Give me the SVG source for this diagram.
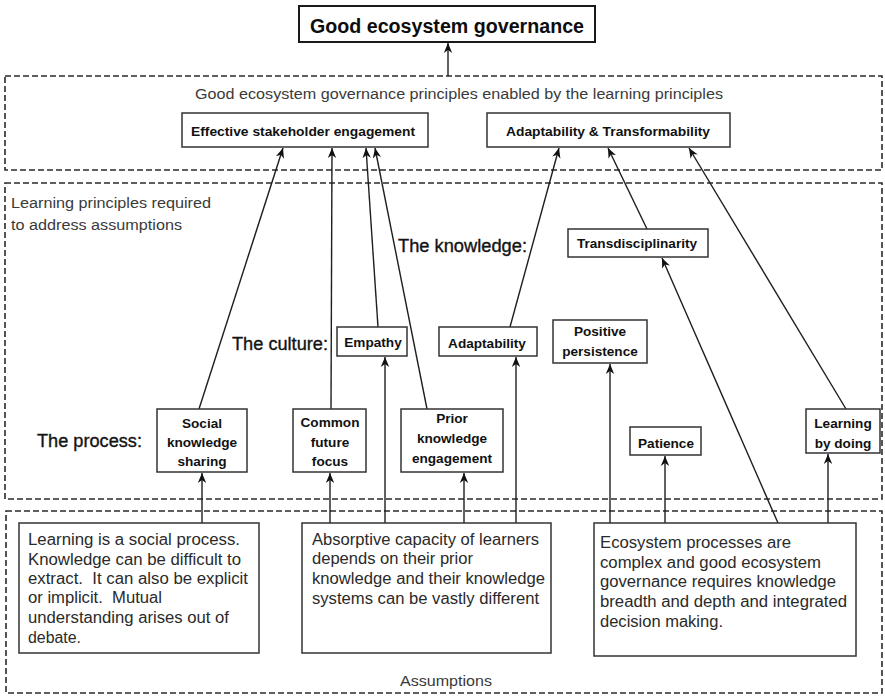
<svg xmlns="http://www.w3.org/2000/svg" width="885" height="696" viewBox="0 0 885 696">
  <style>
    .bg { fill: #ffffff; }
    .zone { fill: none; stroke: #2b2b2b; stroke-width: 1.6; stroke-dasharray: 6 3; }
    .box { fill: #ffffff; stroke: #333333; stroke-width: 1.5; }
    .topbox { fill: #ffffff; stroke: #1a1a1a; stroke-width: 2; }
    .node { font-family: "Liberation Sans", Arial, sans-serif; font-weight: bold; font-size: 13.6px; fill: #111111; text-anchor: middle; }
    .title { font-family: "Liberation Sans", Arial, sans-serif; font-weight: bold; font-size: 19.5px; fill: #0d0d0d; text-anchor: middle; }
    .zonelabel { font-family: "Liberation Sans", Arial, sans-serif; font-size: 15.5px; fill: #3a3a3a; }
    .layer { font-family: "Liberation Sans", Arial, sans-serif; font-size: 18px; fill: #141414; stroke: #141414; stroke-width: 0.35; }
    .para { font-family: "Liberation Sans", Arial, sans-serif; font-size: 16px; fill: #2a2a2a; }
    .link { fill: none; stroke: #1e1e1e; stroke-width: 1.4; marker-end: url(#arrow); }
  </style>
  <defs>
    <marker id="arrow" markerUnits="userSpaceOnUse" markerWidth="12" markerHeight="10" refX="10" refY="5" orient="auto">
      <path d="M10,5 L0,0.8 L3,5 L0,9.2 Z" fill="#111111"/>
    </marker>
  </defs>

  <rect class="bg" x="0" y="0" width="885" height="696"/>

  <!-- dashed zones -->
  <g id="zones">
    <rect class="zone" x="5" y="76" width="877" height="94"/>
    <text class="zonelabel" x="195" y="99" textLength="528" lengthAdjust="spacingAndGlyphs">Good ecosystem governance principles enabled by the learning principles</text>
    <rect class="zone" x="5" y="183" width="877" height="316"/>
    <text class="zonelabel" x="11" y="208" textLength="200" lengthAdjust="spacingAndGlyphs">Learning principles required</text>
    <text class="zonelabel" x="11" y="230" textLength="171" lengthAdjust="spacingAndGlyphs">to address assumptions</text>
    <rect class="zone" x="6" y="511" width="876" height="182"/>
    <text class="zonelabel" x="400" y="686" textLength="92" lengthAdjust="spacingAndGlyphs">Assumptions</text>
  </g>

  <!-- row labels -->
  <g id="layer-labels">
    <text class="layer" x="398" y="252" textLength="129" lengthAdjust="spacingAndGlyphs">The knowledge:</text>
    <text class="layer" x="232" y="350" textLength="96" lengthAdjust="spacingAndGlyphs">The culture:</text>
    <text class="layer" x="37" y="447" textLength="105" lengthAdjust="spacingAndGlyphs">The process:</text>
  </g>

  <!-- connectors -->
  <g id="connectors">
    <line class="link" x1="448" y1="76" x2="448" y2="43"/>
    <line class="link" x1="199" y1="409" x2="283" y2="148"/>
    <line class="link" x1="331" y1="409" x2="332" y2="148"/>
    <line class="link" x1="378" y1="327" x2="366" y2="148"/>
    <line class="link" x1="427" y1="409" x2="375" y2="148"/>
    <line class="link" x1="510" y1="327" x2="559" y2="148"/>
    <line class="link" x1="647" y1="229" x2="608" y2="148"/>
    <line class="link" x1="846" y1="409" x2="689" y2="148"/>
    <line class="link" x1="202" y1="523" x2="202" y2="473"/>
    <line class="link" x1="330" y1="523" x2="330" y2="473"/>
    <line class="link" x1="385" y1="523" x2="385" y2="357"/>
    <line class="link" x1="464" y1="523" x2="464" y2="473"/>
    <line class="link" x1="516" y1="523" x2="516" y2="357"/>
    <line class="link" x1="610" y1="523" x2="610" y2="364"/>
    <line class="link" x1="665" y1="523" x2="665" y2="456"/>
    <line class="link" x1="778" y1="523" x2="662" y2="258"/>
    <line class="link" x1="828" y1="523" x2="828" y2="454"/>
  </g>

  <!-- goal -->
  <g id="good-governance">
    <rect class="topbox" x="299" y="6" width="296" height="36"/>
    <text class="title" x="447" y="33" textLength="274" lengthAdjust="spacingAndGlyphs">Good ecosystem governance</text>
  </g>

  <!-- governance principles -->
  <g id="stakeholder-engagement">
    <rect class="box" x="182" y="113" width="246" height="34"/>
    <text class="node" x="303" y="136" textLength="224" lengthAdjust="spacingAndGlyphs">Effective stakeholder engagement</text>
  </g>
  <g id="adapt-transform">
    <rect class="box" x="487" y="113" width="243" height="34"/>
    <text class="node" x="608" y="136" textLength="204" lengthAdjust="spacingAndGlyphs">Adaptability &amp; Transformability</text>
  </g>

  <!-- learning principles -->
  <g id="transdisciplinarity">
    <rect class="box" x="568" y="229" width="140" height="28"/>
    <text class="node" x="637" y="248">Transdisciplinarity</text>
  </g>
  <g id="empathy">
    <rect class="box" x="337" y="327" width="70" height="29"/>
    <text class="node" x="373" y="347">Empathy</text>
  </g>
  <g id="adaptability">
    <rect class="box" x="439" y="327" width="98" height="29"/>
    <text class="node" x="487" y="348">Adaptability</text>
  </g>
  <g id="positive-persistence">
    <rect class="box" x="553" y="320" width="94" height="43"/>
    <text class="node" x="600" y="336">Positive</text>
    <text class="node" x="600" y="356">persistence</text>
  </g>
  <g id="social-knowledge">
    <rect class="box" x="157" y="409" width="90" height="63"/>
    <text class="node" x="202" y="428">Social</text>
    <text class="node" x="202" y="447">knowledge</text>
    <text class="node" x="202" y="466">sharing</text>
  </g>
  <g id="common-future">
    <rect class="box" x="293" y="409" width="73" height="63"/>
    <text class="node" x="330" y="427">Common</text>
    <text class="node" x="330" y="447">future</text>
    <text class="node" x="330" y="466">focus</text>
  </g>
  <g id="prior-knowledge">
    <rect class="box" x="401" y="409" width="102" height="63"/>
    <text class="node" x="452" y="423">Prior</text>
    <text class="node" x="452" y="443">knowledge</text>
    <text class="node" x="452" y="463">engagement</text>
  </g>
  <g id="patience">
    <rect class="box" x="630" y="427" width="71" height="28"/>
    <text class="node" x="666" y="448">Patience</text>
  </g>
  <g id="learning-by-doing">
    <rect class="box" x="806" y="409" width="74" height="44"/>
    <text class="node" x="843" y="428">Learning</text>
    <text class="node" x="843" y="448">by doing</text>
  </g>

  <!-- assumptions -->
  <g id="social-process">
    <rect class="box" x="19" y="523" width="240" height="130"/>
    <text class="para" x="28" y="545" textLength="212" lengthAdjust="spacingAndGlyphs">Learning is a social process.</text>
    <text class="para" x="28" y="565" textLength="213" lengthAdjust="spacingAndGlyphs">Knowledge can be difficult to</text>
    <text class="para" x="28" y="584" textLength="220" lengthAdjust="spacingAndGlyphs">extract.&#160; It can also be explicit</text>
    <text class="para" x="28" y="603" textLength="134" lengthAdjust="spacingAndGlyphs">or implicit.&#160; Mutual</text>
    <text class="para" x="28" y="623" textLength="201" lengthAdjust="spacingAndGlyphs">understanding arises out of</text>
    <text class="para" x="28" y="643" textLength="53" lengthAdjust="spacingAndGlyphs">debate.</text>
  </g>
  <g id="absorptive-capacity">
    <rect class="box" x="302" y="523" width="249" height="130"/>
    <text class="para" x="312" y="545" textLength="227" lengthAdjust="spacingAndGlyphs">Absorptive capacity of learners</text>
    <text class="para" x="312" y="564" textLength="161" lengthAdjust="spacingAndGlyphs">depends on their prior</text>
    <text class="para" x="312" y="584" textLength="233" lengthAdjust="spacingAndGlyphs">knowledge and their knowledge</text>
    <text class="para" x="312" y="604" textLength="227" lengthAdjust="spacingAndGlyphs">systems can be vastly different</text>
  </g>
  <g id="ecosystem-complexity">
    <rect class="box" x="594" y="523" width="262" height="133"/>
    <text class="para" x="600" y="548" textLength="191" lengthAdjust="spacingAndGlyphs">Ecosystem processes are</text>
    <text class="para" x="600" y="568" textLength="221" lengthAdjust="spacingAndGlyphs">complex and good ecosystem</text>
    <text class="para" x="600" y="587" textLength="236" lengthAdjust="spacingAndGlyphs">governance requires knowledge</text>
    <text class="para" x="600" y="607" textLength="247" lengthAdjust="spacingAndGlyphs">breadth and depth and integrated</text>
    <text class="para" x="600" y="627" textLength="123" lengthAdjust="spacingAndGlyphs">decision making.</text>
  </g>
</svg>
